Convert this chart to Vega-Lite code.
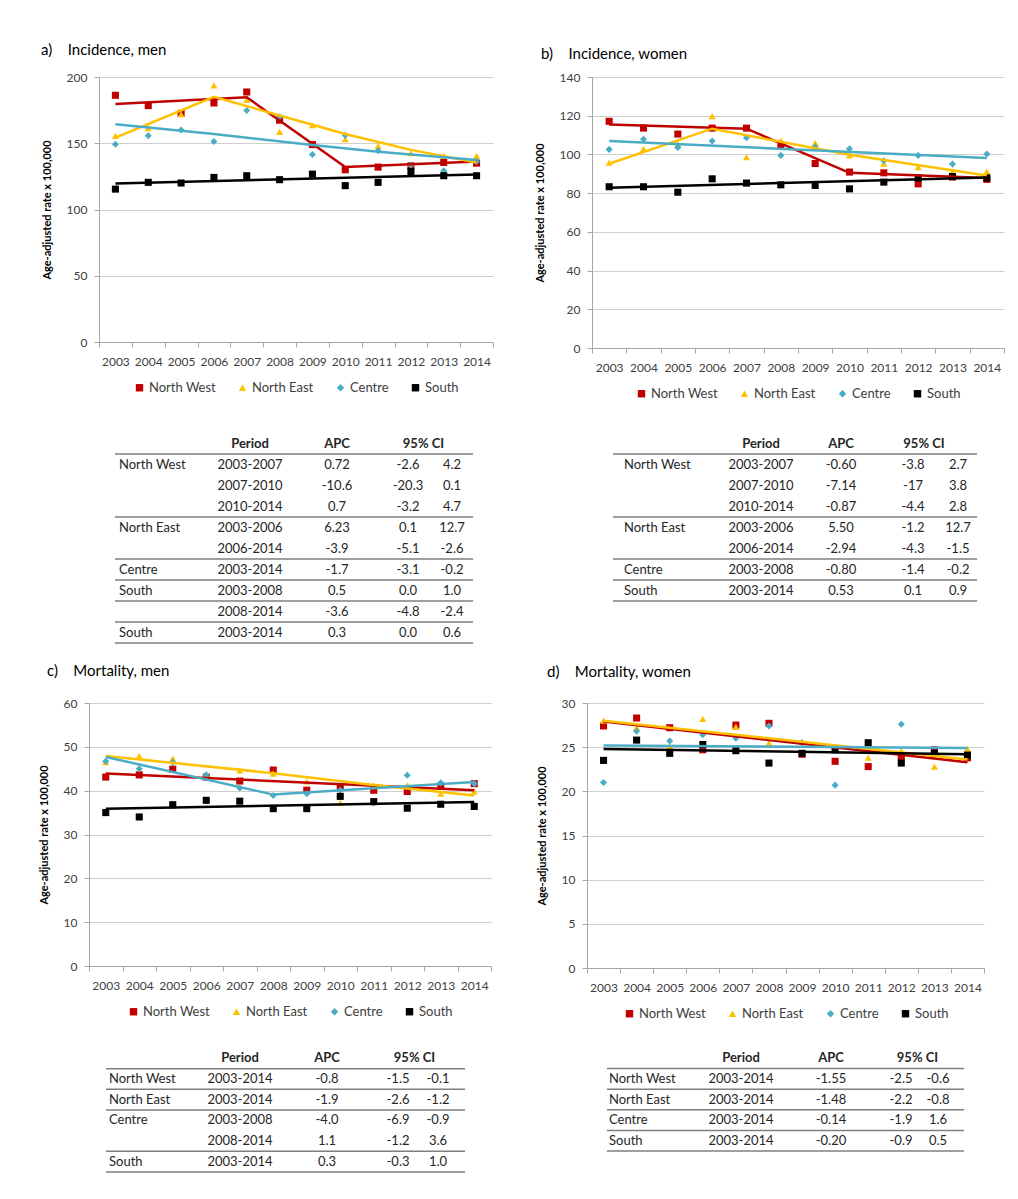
{
"$schema":"https://vega.github.io/schema/vega-lite/v6.json",
"background":"white",
"padding":{"left":37,"top":43,"right":5,"bottom":5},
"autosize":{"type":"pad"},
"config":{
 "font":"Lato",
 "view":{"stroke":null},
 "axis":{"labelFont":"Lato","labelFontSize":12,"labelColor":"#404040","domainColor":"#A6A6A6","tickColor":"#A6A6A6","gridColor":"#CFCFCF","tickSize":5,"titleFont":"Lato","titleFontSize":11,"titleFontWeight":"bold","titleColor":"#000000"},
 "axisY":{"labelPadding":7,"titlePadding":14,"minExtent":0,"grid":true},
 "axisX":{"labelPadding":9,"grid":false},
 "legend":{"orient":"bottom","direction":"horizontal","labelFont":"Lato","labelFontSize":13,"labelColor":"#404040","symbolSize":55,"symbolStrokeWidth":0,"columnPadding":20,"offset":14,"labelOffset":3,"layout":{"bottom":{"anchor":"middle"}}},
 "title":{"font":"Lato","fontSize":15,"fontWeight":"normal","color":"#000000","anchor":"start","frame":"bounds"},
 "text":{"font":"Lato","fontSize":13,"color":"#262626"}
},
"datasets":{
 "obs":[
  {"p":"a","yr":2003,"North West":186.2,"North East":155.6,"Centre":149.3,"South":115.4},
  {"p":"a","yr":2004,"North West":178.4,"North East":161.4,"Centre":155.6,"South":120.5},
  {"p":"a","yr":2005,"North West":172.6,"North East":171.9,"Centre":160.0,"South":120.0},
  {"p":"a","yr":2006,"North West":180.4,"North East":193.7,"Centre":151.3,"South":124.2},
  {"p":"a","yr":2007,"North West":188.7,"North East":182.7,"Centre":174.7,"South":125.5},
  {"p":"a","yr":2008,"North West":167.4,"North East":158.6,"Centre":170.0,"South":122.5},
  {"p":"a","yr":2009,"North West":149.0,"North East":163.6,"Centre":141.5,"South":126.7},
  {"p":"a","yr":2010,"North West":130.0,"North East":153.0,"Centre":156.0,"South":118.0},
  {"p":"a","yr":2011,"North West":132.0,"North East":148.0,"Centre":144.3,"South":120.5},
  {"p":"a","yr":2012,"North West":133.0,"North East":142.5,"Centre":133.5,"South":128.7},
  {"p":"a","yr":2013,"North West":135.5,"North East":140.5,"Centre":129.2,"South":125.5},
  {"p":"a","yr":2014,"North West":135.0,"North East":140.5,"Centre":136.3,"South":125.5},
  {"p":"b","yr":2003,"North West":117.1,"North East":95.7,"Centre":102.6,"South":83.3},
  {"p":"b","yr":2004,"North West":113.6,"North East":102.9,"Centre":107.8,"South":83.3},
  {"p":"b","yr":2005,"North West":110.5,"North East":105.5,"Centre":103.6,"South":80.5},
  {"p":"b","yr":2006,"North West":113.6,"North East":119.8,"Centre":106.9,"South":87.4},
  {"p":"b","yr":2007,"North West":113.6,"North East":98.6,"Centre":108.6,"South":85.2},
  {"p":"b","yr":2008,"North West":105.0,"North East":107.2,"Centre":99.5,"South":84.3},
  {"p":"b","yr":2009,"North West":95.3,"North East":105.9,"Centre":103.8,"South":84.0},
  {"p":"b","yr":2010,"North West":90.9,"North East":99.5,"Centre":102.9,"South":82.2},
  {"p":"b","yr":2011,"North West":90.5,"North East":95.2,"Centre":96.7,"South":85.7},
  {"p":"b","yr":2012,"North West":84.8,"North East":93.4,"Centre":99.5,"South":87.8},
  {"p":"b","yr":2013,"North West":88.3,"North East":90.9,"Centre":95.0,"South":88.6},
  {"p":"b","yr":2014,"North West":87.1,"North East":91.2,"Centre":100.2,"South":87.9},
  {"p":"c","yr":2003,"North West":43.1,"North East":46.5,"Centre":46.7,"South":35.0},
  {"p":"c","yr":2004,"North West":43.6,"North East":47.9,"Centre":45.0,"South":34.0},
  {"p":"c","yr":2005,"North West":44.9,"North East":47.3,"Centre":46.5,"South":36.8},
  {"p":"c","yr":2006,"North West":43.1,"North East":43.6,"Centre":43.6,"South":37.8},
  {"p":"c","yr":2007,"North West":42.2,"North East":44.6,"Centre":40.6,"South":37.6},
  {"p":"c","yr":2008,"North West":44.7,"North East":43.9,"Centre":38.9,"South":35.9},
  {"p":"c","yr":2009,"North West":40.1,"North East":42.1,"Centre":39.3,"South":35.9},
  {"p":"c","yr":2010,"North West":40.8,"North East":37.2,"Centre":40.1,"South":38.7},
  {"p":"c","yr":2011,"North West":40.1,"North East":41.2,"Centre":37.2,"South":37.5},
  {"p":"c","yr":2012,"North West":39.8,"North East":41.2,"Centre":43.5,"South":36.0},
  {"p":"c","yr":2013,"North West":41.0,"North East":39.3,"Centre":41.8,"South":36.9},
  {"p":"c","yr":2014,"North West":41.6,"North East":39.8,"Centre":41.6,"South":36.4},
  {"p":"d","yr":2003,"North West":27.4,"North East":28.0,"Centre":21.0,"South":23.5},
  {"p":"d","yr":2004,"North West":28.3,"North East":27.2,"Centre":26.8,"South":25.8},
  {"p":"d","yr":2005,"North West":27.2,"North East":25.1,"Centre":25.7,"South":24.3},
  {"p":"d","yr":2006,"North West":24.7,"North East":28.2,"Centre":26.4,"South":25.3},
  {"p":"d","yr":2007,"North West":27.5,"North East":27.3,"Centre":26.0,"South":24.6},
  {"p":"d","yr":2008,"North West":27.7,"North East":25.5,"Centre":27.4,"South":23.2},
  {"p":"d","yr":2009,"North West":24.2,"North East":25.6,"Centre":25.5,"South":24.3},
  {"p":"d","yr":2010,"North West":23.4,"North East":25.1,"Centre":20.7,"South":24.7},
  {"p":"d","yr":2011,"North West":22.8,"North East":23.8,"Centre":24.9,"South":25.5},
  {"p":"d","yr":2012,"North West":23.9,"North East":24.6,"Centre":27.6,"South":23.2},
  {"p":"d","yr":2013,"North West":24.7,"North East":22.8,"Centre":24.0,"South":24.3},
  {"p":"d","yr":2014,"North West":23.8,"North East":24.8,"Centre":24.0,"South":24.1}
 ],
 "fit":[
  {"p":"a","region":"North West","yr":2003,"v":179.7},{"p":"a","region":"North West","yr":2007,"v":184.7},{"p":"a","region":"North West","yr":2010,"v":132.0},{"p":"a","region":"North West","yr":2014,"v":136.3},
  {"p":"a","region":"North East","yr":2003,"v":154.3},{"p":"a","region":"North East","yr":2006,"v":185.0},{"p":"a","region":"North East","yr":2008,"v":171.0},{"p":"a","region":"North East","yr":2010,"v":157.0},{"p":"a","region":"North East","yr":2012,"v":145.0},{"p":"a","region":"North East","yr":2014,"v":135.5},
  {"p":"a","region":"Centre","yr":2003,"v":164.4},{"p":"a","region":"Centre","yr":2006,"v":157.0},{"p":"a","region":"Centre","yr":2009,"v":148.6},{"p":"a","region":"Centre","yr":2011,"v":143.5},{"p":"a","region":"Centre","yr":2014,"v":137.3},
  {"p":"a","region":"South","yr":2003,"v":119.7},{"p":"a","region":"South","yr":2014,"v":126.5},
  {"p":"b","region":"North West","yr":2003,"v":115.5},{"p":"b","region":"North West","yr":2007,"v":113.3},{"p":"b","region":"North West","yr":2010,"v":90.5},{"p":"b","region":"North West","yr":2014,"v":87.8},
  {"p":"b","region":"North East","yr":2003,"v":95.2},{"p":"b","region":"North East","yr":2006,"v":113.3},{"p":"b","region":"North East","yr":2010,"v":99.8},{"p":"b","region":"North East","yr":2014,"v":89.1},
  {"p":"b","region":"Centre","yr":2003,"v":106.9},{"p":"b","region":"Centre","yr":2014,"v":98.1},
  {"p":"b","region":"South","yr":2003,"v":82.8},{"p":"b","region":"South","yr":2014,"v":88.1},
  {"p":"c","region":"North West","yr":2003,"v":43.9},{"p":"c","region":"North West","yr":2014,"v":40.1},
  {"p":"c","region":"North East","yr":2003,"v":47.9},{"p":"c","region":"North East","yr":2008,"v":44.0},{"p":"c","region":"North East","yr":2011,"v":41.3},{"p":"c","region":"North East","yr":2014,"v":38.9},
  {"p":"c","region":"Centre","yr":2003,"v":47.7},{"p":"c","region":"Centre","yr":2008,"v":39.1},{"p":"c","region":"Centre","yr":2014,"v":42.0},
  {"p":"c","region":"South","yr":2003,"v":35.9},{"p":"c","region":"South","yr":2014,"v":37.4},
  {"p":"d","region":"North West","yr":2003,"v":27.9},{"p":"d","region":"North West","yr":2014,"v":23.3},
  {"p":"d","region":"North East","yr":2003,"v":28.0},{"p":"d","region":"North East","yr":2014,"v":23.6},
  {"p":"d","region":"Centre","yr":2003,"v":25.2},{"p":"d","region":"Centre","yr":2014,"v":24.9},
  {"p":"d","region":"South","yr":2003,"v":24.8},{"p":"d","region":"South","yr":2014,"v":24.2}
 ],
 "tab":[
  {"t":"a","r":1,"region":"North West","period":"2003-2007","apc":"0.72","lo":"-2.6","hi":"4.2"},
  {"t":"a","r":2,"region":"","period":"2007-2010","apc":"-10.6","lo":"-20.3","hi":"0.1"},
  {"t":"a","r":3,"region":"","period":"2010-2014","apc":"0.7","lo":"-3.2","hi":"4.7"},
  {"t":"a","r":4,"region":"North East","period":"2003-2006","apc":"6.23","lo":"0.1","hi":"12.7"},
  {"t":"a","r":5,"region":"","period":"2006-2014","apc":"-3.9","lo":"-5.1","hi":"-2.6"},
  {"t":"a","r":6,"region":"Centre","period":"2003-2014","apc":"-1.7","lo":"-3.1","hi":"-0.2"},
  {"t":"a","r":7,"region":"South","period":"2003-2008","apc":"0.5","lo":"0.0","hi":"1.0"},
  {"t":"a","r":8,"region":"","period":"2008-2014","apc":"-3.6","lo":"-4.8","hi":"-2.4"},
  {"t":"a","r":9,"region":"South","period":"2003-2014","apc":"0.3","lo":"0.0","hi":"0.6"},
  {"t":"b","r":1,"region":"North West","period":"2003-2007","apc":"-0.60","lo":"-3.8","hi":"2.7"},
  {"t":"b","r":2,"region":"","period":"2007-2010","apc":"-7.14","lo":"-17","hi":"3.8"},
  {"t":"b","r":3,"region":"","period":"2010-2014","apc":"-0.87","lo":"-4.4","hi":"2.8"},
  {"t":"b","r":4,"region":"North East","period":"2003-2006","apc":"5.50","lo":"-1.2","hi":"12.7"},
  {"t":"b","r":5,"region":"","period":"2006-2014","apc":"-2.94","lo":"-4.3","hi":"-1.5"},
  {"t":"b","r":6,"region":"Centre","period":"2003-2008","apc":"-0.80","lo":"-1.4","hi":"-0.2"},
  {"t":"b","r":7,"region":"South","period":"2003-2014","apc":"0.53","lo":"0.1","hi":"0.9"},
  {"t":"c","r":1,"region":"North West","period":"2003-2014","apc":"-0.8","lo":"-1.5","hi":"-0.1"},
  {"t":"c","r":2,"region":"North East","period":"2003-2014","apc":"-1.9","lo":"-2.6","hi":"-1.2"},
  {"t":"c","r":3,"region":"Centre","period":"2003-2008","apc":"-4.0","lo":"-6.9","hi":"-0.9"},
  {"t":"c","r":4,"region":"","period":"2008-2014","apc":"1.1","lo":"-1.2","hi":"3.6"},
  {"t":"c","r":5,"region":"South","period":"2003-2014","apc":"0.3","lo":"-0.3","hi":"1.0"},
  {"t":"d","r":1,"region":"North West","period":"2003-2014","apc":"-1.55","lo":"-2.5","hi":"-0.6"},
  {"t":"d","r":2,"region":"North East","period":"2003-2014","apc":"-1.48","lo":"-2.2","hi":"-0.8"},
  {"t":"d","r":3,"region":"Centre","period":"2003-2014","apc":"-0.14","lo":"-1.9","hi":"1.6"},
  {"t":"d","r":4,"region":"South","period":"2003-2014","apc":"-0.20","lo":"-0.9","hi":"0.5"}
 ],
 "seps":[
  {"t":"a","b":0.5},{"t":"a","b":3.5},{"t":"a","b":5.5},{"t":"a","b":6.5},{"t":"a","b":7.5},{"t":"a","b":8.5},{"t":"a","b":9.5},
  {"t":"b","b":0.5},{"t":"b","b":3.5},{"t":"b","b":5.5},{"t":"b","b":6.5},{"t":"b","b":7.5},
  {"t":"c","b":0.5},{"t":"c","b":1.5},{"t":"c","b":2.5},{"t":"c","b":4.5},{"t":"c","b":5.5},
  {"t":"d","b":0.5},{"t":"d","b":1.5},{"t":"d","b":2.5},{"t":"d","b":3.5},{"t":"d","b":4.5}
 ]
},
"columns":1,
"spacing":20,
"resolve":{"scale":{"color":"independent","shape":"independent"},"legend":{"color":"independent","shape":"independent"}},
"concat":[
 {"hconcat":[
  {"width":4,"height":1,"data":{"values":[]},"mark":"point","encoding":{}},
  {"hconcat":[
  {"vconcat":[
   {"width":394,"height":265,
    "title":{"text":"a)\u00a0\u00a0\u00a0\u00a0Incidence, men","offset":13},
    "encoding":{
     "x":{"field":"yr","type":"quantitative","scale":{"domain":[2002.5,2014.5],"nice":false,"zero":false},"axis":{"values":[2002.5,2003,2003.5,2004,2004.5,2005,2005.5,2006,2006.5,2007,2007.5,2008,2008.5,2009,2009.5,2010,2010.5,2011,2011.5,2012,2012.5,2013,2013.5,2014,2014.5],"labelExpr":"datum.value % 1 === 0 ? format(datum.value, 'd') : ''","tickOpacity":{"condition":{"test":"datum.value % 1 !== 0","value":1},"value":0},"title":null,"labelOverlap":false,"labelFlush":false}},
     "y":{"field":"v","type":"quantitative","scale":{"domain":[0,200],"nice":false},"axis":{"values":[0,50,100,150,200],"title":"Age-adjusted rate x 100,000"}},
     "color":{"field":"region","type":"nominal","scale":{"domain":["North West","North East","Centre","South"],"range":["#C00000","#FFC000","#4BACC6","#000000"]},"legend":{"title":null}}
    },
    "layer":[
     {"data":{"name":"obs"},"transform":[{"filter":"datum.p === 'a'"},{"fold":["North West","North East","Centre","South"],"as":["region","v"]}],
      "mark":{"type":"point","filled":true,"size":50,"opacity":1},
      "encoding":{"shape":{"field":"region","type":"nominal","scale":{"domain":["North West","North East","Centre","South"],"range":["square","triangle-up","diamond","square"]},"legend":{"title":null}}}},
     {"data":{"name":"fit"},"transform":[{"filter":"datum.p === 'a'"}],
      "mark":{"type":"line","strokeWidth":2.5}}
    ]},
   {"hconcat":[
     {"width":16,"height":10,"data":{"values":[]},"mark":"point","encoding":{}},
     {"width":85,"height":210,"layer":[
       {"data":{"name":"seps"},"transform":[{"filter":"datum.t === 'a'"}],"mark":{"type":"rule","color":"#7F7F7F","strokeWidth":1.5},"encoding":{"y":{"field":"b","type":"quantitative","scale":{"domain":[-0.5,9.5],"reverse":true,"nice":false,"zero":false},"axis":null}}},
       {"data":{"name":"tab"},"transform":[{"filter":"datum.t === 'a'"}],"mark":{"type":"text","align":"left","dx":-38.5},"encoding":{"y":{"field":"r","type":"quantitative","scale":{"domain":[-0.5,9.5],"reverse":true,"nice":false,"zero":false},"axis":null},"text":{"field":"region"}}}
     ]},
     {"width":100,"height":210,"layer":[
       {"data":{"name":"seps"},"transform":[{"filter":"datum.t === 'a'"}],"mark":{"type":"rule","color":"#7F7F7F","strokeWidth":1.5},"encoding":{"y":{"field":"b","type":"quantitative","scale":{"domain":[-0.5,9.5],"reverse":true,"nice":false,"zero":false},"axis":null}}},
       {"data":{"values":[{"h":"Period"}]},"mark":{"type":"text","fontWeight":"bold"},"encoding":{"y":{"datum":0,"type":"quantitative","scale":{"domain":[-0.5,9.5],"reverse":true,"nice":false,"zero":false},"axis":null},"text":{"field":"h"}}},
       {"data":{"name":"tab"},"transform":[{"filter":"datum.t === 'a'"}],"mark":{"type":"text"},"encoding":{"y":{"field":"r","type":"quantitative","scale":{"domain":[-0.5,9.5],"reverse":true,"nice":false,"zero":false},"axis":null},"text":{"field":"period"}}}
     ]},
     {"width":74,"height":210,"layer":[
       {"data":{"name":"seps"},"transform":[{"filter":"datum.t === 'a'"}],"mark":{"type":"rule","color":"#7F7F7F","strokeWidth":1.5},"encoding":{"y":{"field":"b","type":"quantitative","scale":{"domain":[-0.5,9.5],"reverse":true,"nice":false,"zero":false},"axis":null}}},
       {"data":{"values":[{"h":"APC"}]},"mark":{"type":"text","fontWeight":"bold"},"encoding":{"y":{"datum":0,"type":"quantitative","scale":{"domain":[-0.5,9.5],"reverse":true,"nice":false,"zero":false},"axis":null},"text":{"field":"h"}}},
       {"data":{"name":"tab"},"transform":[{"filter":"datum.t === 'a'"}],"mark":{"type":"text"},"encoding":{"y":{"field":"r","type":"quantitative","scale":{"domain":[-0.5,9.5],"reverse":true,"nice":false,"zero":false},"axis":null},"text":{"field":"apc"}}}
     ]},
     {"width":99,"height":210,"layer":[
       {"data":{"name":"seps"},"transform":[{"filter":"datum.t === 'a'"}],"mark":{"type":"rule","color":"#7F7F7F","strokeWidth":1.5},"encoding":{"y":{"field":"b","type":"quantitative","scale":{"domain":[-0.5,9.5],"reverse":true,"nice":false,"zero":false},"axis":null}}},
       {"data":{"values":[{"h":"95% CI"}]},"mark":{"type":"text","fontWeight":"bold"},"encoding":{"y":{"datum":0,"type":"quantitative","scale":{"domain":[-0.5,9.5],"reverse":true,"nice":false,"zero":false},"axis":null},"text":{"field":"h"}}},
       {"data":{"name":"tab"},"transform":[{"filter":"datum.t === 'a'"},{"fold":["lo","hi"],"as":["k","val"]}],"mark":{"type":"text"},"encoding":{"x":{"field":"k","type":"nominal","scale":{"domain":["lo","hi"],"range":[34,78],"padding":0},"axis":null},"y":{"field":"r","type":"quantitative","scale":{"domain":[-0.5,9.5],"reverse":true,"nice":false,"zero":false},"axis":null},"text":{"field":"val"}}}
     ]}
    ],"spacing":0,"bounds":"flush"}
  ],"spacing":38,"resolve":{"scale":{"color":"independent","shape":"independent"},"legend":{"color":"independent","shape":"independent"}}},
  {"vconcat":[
   {"width":412,"height":271,
    "title":{"text":"b)\u00a0\u00a0\u00a0\u00a0Incidence, women","offset":9,"dx":7},
    "encoding":{
     "x":{"field":"yr","type":"quantitative","scale":{"domain":[2002.5,2014.5],"nice":false,"zero":false},"axis":{"values":[2002.5,2003,2003.5,2004,2004.5,2005,2005.5,2006,2006.5,2007,2007.5,2008,2008.5,2009,2009.5,2010,2010.5,2011,2011.5,2012,2012.5,2013,2013.5,2014,2014.5],"labelExpr":"datum.value % 1 === 0 ? format(datum.value, 'd') : ''","tickOpacity":{"condition":{"test":"datum.value % 1 !== 0","value":1},"value":0},"title":null,"labelOverlap":false,"labelFlush":false}},
     "y":{"field":"v","type":"quantitative","scale":{"domain":[0,140],"nice":false},"axis":{"values":[0,20,40,60,80,100,120,140],"title":"Age-adjusted rate x 100,000"}},
     "color":{"field":"region","type":"nominal","scale":{"domain":["North West","North East","Centre","South"],"range":["#C00000","#FFC000","#4BACC6","#000000"]},"legend":{"title":null}}
    },
    "layer":[
     {"data":{"name":"obs"},"transform":[{"filter":"datum.p === 'b'"},{"fold":["North West","North East","Centre","South"],"as":["region","v"]}],
      "mark":{"type":"point","filled":true,"size":50,"opacity":1},
      "encoding":{"shape":{"field":"region","type":"nominal","scale":{"domain":["North West","North East","Centre","South"],"range":["square","triangle-up","diamond","square"]},"legend":{"title":null}}}},
     {"data":{"name":"fit"},"transform":[{"filter":"datum.p === 'b'"}],
      "mark":{"type":"line","strokeWidth":2.5}}
    ]},
   {"hconcat":[
     {"width":21,"height":10,"data":{"values":[]},"mark":"point","encoding":{}},
     {"width":98,"height":168,"layer":[
       {"data":{"name":"seps"},"transform":[{"filter":"datum.t === 'b'"}],"mark":{"type":"rule","color":"#7F7F7F","strokeWidth":1.5},"encoding":{"y":{"field":"b","type":"quantitative","scale":{"domain":[-0.5,7.5],"reverse":true,"nice":false,"zero":false},"axis":null}}},
       {"data":{"name":"tab"},"transform":[{"filter":"datum.t === 'b'"}],"mark":{"type":"text","align":"left","dx":-38},"encoding":{"y":{"field":"r","type":"quantitative","scale":{"domain":[-0.5,7.5],"reverse":true,"nice":false,"zero":false},"axis":null},"text":{"field":"region"}}}
     ]},
     {"width":100,"height":168,"layer":[
       {"data":{"name":"seps"},"transform":[{"filter":"datum.t === 'b'"}],"mark":{"type":"rule","color":"#7F7F7F","strokeWidth":1.5},"encoding":{"y":{"field":"b","type":"quantitative","scale":{"domain":[-0.5,7.5],"reverse":true,"nice":false,"zero":false},"axis":null}}},
       {"data":{"values":[{"h":"Period"}]},"mark":{"type":"text","fontWeight":"bold"},"encoding":{"y":{"datum":0,"type":"quantitative","scale":{"domain":[-0.5,7.5],"reverse":true,"nice":false,"zero":false},"axis":null},"text":{"field":"h"}}},
       {"data":{"name":"tab"},"transform":[{"filter":"datum.t === 'b'"}],"mark":{"type":"text"},"encoding":{"y":{"field":"r","type":"quantitative","scale":{"domain":[-0.5,7.5],"reverse":true,"nice":false,"zero":false},"axis":null},"text":{"field":"period"}}}
     ]},
     {"width":60,"height":168,"layer":[
       {"data":{"name":"seps"},"transform":[{"filter":"datum.t === 'b'"}],"mark":{"type":"rule","color":"#7F7F7F","strokeWidth":1.5},"encoding":{"y":{"field":"b","type":"quantitative","scale":{"domain":[-0.5,7.5],"reverse":true,"nice":false,"zero":false},"axis":null}}},
       {"data":{"values":[{"h":"APC"}]},"mark":{"type":"text","fontWeight":"bold"},"encoding":{"y":{"datum":0,"type":"quantitative","scale":{"domain":[-0.5,7.5],"reverse":true,"nice":false,"zero":false},"axis":null},"text":{"field":"h"}}},
       {"data":{"name":"tab"},"transform":[{"filter":"datum.t === 'b'"}],"mark":{"type":"text"},"encoding":{"y":{"field":"r","type":"quantitative","scale":{"domain":[-0.5,7.5],"reverse":true,"nice":false,"zero":false},"axis":null},"text":{"field":"apc"}}}
     ]},
     {"width":106,"height":168,"layer":[
       {"data":{"name":"seps"},"transform":[{"filter":"datum.t === 'b'"}],"mark":{"type":"rule","color":"#7F7F7F","strokeWidth":1.5},"encoding":{"y":{"field":"b","type":"quantitative","scale":{"domain":[-0.5,7.5],"reverse":true,"nice":false,"zero":false},"axis":null}}},
       {"data":{"values":[{"h":"95% CI"}]},"mark":{"type":"text","fontWeight":"bold"},"encoding":{"y":{"datum":0,"type":"quantitative","scale":{"domain":[-0.5,7.5],"reverse":true,"nice":false,"zero":false},"axis":null},"text":{"field":"h"}}},
       {"data":{"name":"tab"},"transform":[{"filter":"datum.t === 'b'"},{"fold":["lo","hi"],"as":["k","val"]}],"mark":{"type":"text"},"encoding":{"x":{"field":"k","type":"nominal","scale":{"domain":["lo","hi"],"range":[42,87],"padding":0},"axis":null},"y":{"field":"r","type":"quantitative","scale":{"domain":[-0.5,7.5],"reverse":true,"nice":false,"zero":false},"axis":null},"text":{"field":"val"}}}
     ]}
    ],"spacing":0,"bounds":"flush"}
  ],"spacing":32,"resolve":{"scale":{"color":"independent","shape":"independent"},"legend":{"color":"independent","shape":"independent"}}}
  ],"spacing":40,"resolve":{"scale":{"color":"independent","shape":"independent"},"legend":{"color":"independent","shape":"independent"}}}
 ],"spacing":0,"resolve":{"scale":{"color":"independent","shape":"independent"},"legend":{"color":"independent","shape":"independent"}}},
 {"hconcat":[
  {"width":1,"height":1,"data":{"values":[]},"mark":"point","encoding":{}},
  {"hconcat":[
  {"vconcat":[
   {"width":402,"height":263,
    "title":{"text":"c)\u00a0\u00a0\u00a0\u00a0Mortality, men","offset":18,"dx":9},
    "encoding":{
     "x":{"field":"yr","type":"quantitative","scale":{"domain":[2002.5,2014.5],"nice":false,"zero":false},"axis":{"values":[2002.5,2003,2003.5,2004,2004.5,2005,2005.5,2006,2006.5,2007,2007.5,2008,2008.5,2009,2009.5,2010,2010.5,2011,2011.5,2012,2012.5,2013,2013.5,2014,2014.5],"labelExpr":"datum.value % 1 === 0 ? format(datum.value, 'd') : ''","tickOpacity":{"condition":{"test":"datum.value % 1 !== 0","value":1},"value":0},"title":null,"labelOverlap":false,"labelFlush":false}},
     "y":{"field":"v","type":"quantitative","scale":{"domain":[0,60],"nice":false},"axis":{"values":[0,10,20,30,40,50,60],"title":"Age-adjusted rate x 100,000"}},
     "color":{"field":"region","type":"nominal","scale":{"domain":["North West","North East","Centre","South"],"range":["#C00000","#FFC000","#4BACC6","#000000"]},"legend":{"title":null}}
    },
    "layer":[
     {"data":{"name":"obs"},"transform":[{"filter":"datum.p === 'c'"},{"fold":["North West","North East","Centre","South"],"as":["region","v"]}],
      "mark":{"type":"point","filled":true,"size":50,"opacity":1},
      "encoding":{"shape":{"field":"region","type":"nominal","scale":{"domain":["North West","North East","Centre","South"],"range":["square","triangle-up","diamond","square"]},"legend":{"title":null}}}},
     {"data":{"name":"fit"},"transform":[{"filter":"datum.p === 'c'"}],
      "mark":{"type":"line","strokeWidth":2.5}}
    ]},
   {"hconcat":[
     {"width":17,"height":10,"data":{"values":[]},"mark":"point","encoding":{}},
     {"width":84,"height":124,"layer":[
       {"data":{"name":"seps"},"transform":[{"filter":"datum.t === 'c'"}],"mark":{"type":"rule","color":"#7F7F7F","strokeWidth":1.5},"encoding":{"y":{"field":"b","type":"quantitative","scale":{"domain":[-0.5,5.5],"reverse":true,"nice":false,"zero":false},"axis":null}}},
       {"data":{"name":"tab"},"transform":[{"filter":"datum.t === 'c'"}],"mark":{"type":"text","align":"left","dx":-39},"encoding":{"y":{"field":"r","type":"quantitative","scale":{"domain":[-0.5,5.5],"reverse":true,"nice":false,"zero":false},"axis":null},"text":{"field":"region"}}}
     ]},
     {"width":100,"height":124,"layer":[
       {"data":{"name":"seps"},"transform":[{"filter":"datum.t === 'c'"}],"mark":{"type":"rule","color":"#7F7F7F","strokeWidth":1.5},"encoding":{"y":{"field":"b","type":"quantitative","scale":{"domain":[-0.5,5.5],"reverse":true,"nice":false,"zero":false},"axis":null}}},
       {"data":{"values":[{"h":"Period"}]},"mark":{"type":"text","fontWeight":"bold"},"encoding":{"y":{"datum":0,"type":"quantitative","scale":{"domain":[-0.5,5.5],"reverse":true,"nice":false,"zero":false},"axis":null},"text":{"field":"h"}}},
       {"data":{"name":"tab"},"transform":[{"filter":"datum.t === 'c'"}],"mark":{"type":"text"},"encoding":{"y":{"field":"r","type":"quantitative","scale":{"domain":[-0.5,5.5],"reverse":true,"nice":false,"zero":false},"axis":null},"text":{"field":"period"}}}
     ]},
     {"width":74,"height":124,"layer":[
       {"data":{"name":"seps"},"transform":[{"filter":"datum.t === 'c'"}],"mark":{"type":"rule","color":"#7F7F7F","strokeWidth":1.5},"encoding":{"y":{"field":"b","type":"quantitative","scale":{"domain":[-0.5,5.5],"reverse":true,"nice":false,"zero":false},"axis":null}}},
       {"data":{"values":[{"h":"APC"}]},"mark":{"type":"text","fontWeight":"bold"},"encoding":{"y":{"datum":0,"type":"quantitative","scale":{"domain":[-0.5,5.5],"reverse":true,"nice":false,"zero":false},"axis":null},"text":{"field":"h"}}},
       {"data":{"name":"tab"},"transform":[{"filter":"datum.t === 'c'"}],"mark":{"type":"text"},"encoding":{"y":{"field":"r","type":"quantitative","scale":{"domain":[-0.5,5.5],"reverse":true,"nice":false,"zero":false},"axis":null},"text":{"field":"apc"}}}
     ]},
     {"width":101,"height":124,"layer":[
       {"data":{"name":"seps"},"transform":[{"filter":"datum.t === 'c'"}],"mark":{"type":"rule","color":"#7F7F7F","strokeWidth":1.5},"encoding":{"y":{"field":"b","type":"quantitative","scale":{"domain":[-0.5,5.5],"reverse":true,"nice":false,"zero":false},"axis":null}}},
       {"data":{"values":[{"h":"95% CI"}]},"mark":{"type":"text","fontWeight":"bold"},"encoding":{"y":{"datum":0,"type":"quantitative","scale":{"domain":[-0.5,5.5],"reverse":true,"nice":false,"zero":false},"axis":null},"text":{"field":"h"}}},
       {"data":{"name":"tab"},"transform":[{"filter":"datum.t === 'c'"},{"fold":["lo","hi"],"as":["k","val"]}],"mark":{"type":"text"},"encoding":{"x":{"field":"k","type":"nominal","scale":{"domain":["lo","hi"],"range":[34,74],"padding":0},"axis":null},"y":{"field":"r","type":"quantitative","scale":{"domain":[-0.5,5.5],"reverse":true,"nice":false,"zero":false},"axis":null},"text":{"field":"val"}}}
     ]}
    ],"spacing":0,"bounds":"flush"}
  ],"spacing":29,"resolve":{"scale":{"color":"independent","shape":"independent"},"legend":{"color":"independent","shape":"independent"}}},
  {"vconcat":[
   {"width":397,"height":265,
    "title":{"text":"d)\u00a0\u00a0\u00a0\u00a0Mortality, women","offset":17,"dx":11},
    "encoding":{
     "x":{"field":"yr","type":"quantitative","scale":{"domain":[2002.5,2014.5],"nice":false,"zero":false},"axis":{"values":[2002.5,2003,2003.5,2004,2004.5,2005,2005.5,2006,2006.5,2007,2007.5,2008,2008.5,2009,2009.5,2010,2010.5,2011,2011.5,2012,2012.5,2013,2013.5,2014,2014.5],"labelExpr":"datum.value % 1 === 0 ? format(datum.value, 'd') : ''","tickOpacity":{"condition":{"test":"datum.value % 1 !== 0","value":1},"value":0},"title":null,"labelOverlap":false,"labelFlush":false}},
     "y":{"field":"v","type":"quantitative","scale":{"domain":[0,30],"nice":false},"axis":{"values":[0,5,10,15,20,25,30],"title":"Age-adjusted rate x 100,000"}},
     "color":{"field":"region","type":"nominal","scale":{"domain":["North West","North East","Centre","South"],"range":["#C00000","#FFC000","#4BACC6","#000000"]},"legend":{"title":null}}
    },
    "layer":[
     {"data":{"name":"obs"},"transform":[{"filter":"datum.p === 'd'"},{"fold":["North West","North East","Centre","South"],"as":["region","v"]}],
      "mark":{"type":"point","filled":true,"size":50,"opacity":1},
      "encoding":{"shape":{"field":"region","type":"nominal","scale":{"domain":["North West","North East","Centre","South"],"range":["square","triangle-up","diamond","square"]},"legend":{"title":null}}}},
     {"data":{"name":"fit"},"transform":[{"filter":"datum.p === 'd'"}],
      "mark":{"type":"line","strokeWidth":2.5}}
    ]},
   {"hconcat":[
     {"width":20,"height":10,"data":{"values":[]},"mark":"point","encoding":{}},
     {"width":84,"height":103,"layer":[
       {"data":{"name":"seps"},"transform":[{"filter":"datum.t === 'd'"}],"mark":{"type":"rule","color":"#7F7F7F","strokeWidth":1.5},"encoding":{"y":{"field":"b","type":"quantitative","scale":{"domain":[-0.5,4.5],"reverse":true,"nice":false,"zero":false},"axis":null}}},
       {"data":{"name":"tab"},"transform":[{"filter":"datum.t === 'd'"}],"mark":{"type":"text","align":"left","dx":-40},"encoding":{"y":{"field":"r","type":"quantitative","scale":{"domain":[-0.5,4.5],"reverse":true,"nice":false,"zero":false},"axis":null},"text":{"field":"region"}}}
     ]},
     {"width":100,"height":103,"layer":[
       {"data":{"name":"seps"},"transform":[{"filter":"datum.t === 'd'"}],"mark":{"type":"rule","color":"#7F7F7F","strokeWidth":1.5},"encoding":{"y":{"field":"b","type":"quantitative","scale":{"domain":[-0.5,4.5],"reverse":true,"nice":false,"zero":false},"axis":null}}},
       {"data":{"values":[{"h":"Period"}]},"mark":{"type":"text","fontWeight":"bold"},"encoding":{"y":{"datum":0,"type":"quantitative","scale":{"domain":[-0.5,4.5],"reverse":true,"nice":false,"zero":false},"axis":null},"text":{"field":"h"}}},
       {"data":{"name":"tab"},"transform":[{"filter":"datum.t === 'd'"}],"mark":{"type":"text"},"encoding":{"y":{"field":"r","type":"quantitative","scale":{"domain":[-0.5,4.5],"reverse":true,"nice":false,"zero":false},"axis":null},"text":{"field":"period"}}}
     ]},
     {"width":80,"height":103,"layer":[
       {"data":{"name":"seps"},"transform":[{"filter":"datum.t === 'd'"}],"mark":{"type":"rule","color":"#7F7F7F","strokeWidth":1.5},"encoding":{"y":{"field":"b","type":"quantitative","scale":{"domain":[-0.5,4.5],"reverse":true,"nice":false,"zero":false},"axis":null}}},
       {"data":{"values":[{"h":"APC"}]},"mark":{"type":"text","fontWeight":"bold"},"encoding":{"y":{"datum":0,"type":"quantitative","scale":{"domain":[-0.5,4.5],"reverse":true,"nice":false,"zero":false},"axis":null},"text":{"field":"h"}}},
       {"data":{"name":"tab"},"transform":[{"filter":"datum.t === 'd'"}],"mark":{"type":"text"},"encoding":{"y":{"field":"r","type":"quantitative","scale":{"domain":[-0.5,4.5],"reverse":true,"nice":false,"zero":false},"axis":null},"text":{"field":"apc"}}}
     ]},
     {"width":93,"height":103,"layer":[
       {"data":{"name":"seps"},"transform":[{"filter":"datum.t === 'd'"}],"mark":{"type":"rule","color":"#7F7F7F","strokeWidth":1.5},"encoding":{"y":{"field":"b","type":"quantitative","scale":{"domain":[-0.5,4.5],"reverse":true,"nice":false,"zero":false},"axis":null}}},
       {"data":{"values":[{"h":"95% CI"}]},"mark":{"type":"text","fontWeight":"bold"},"encoding":{"y":{"datum":0,"type":"quantitative","scale":{"domain":[-0.5,4.5],"reverse":true,"nice":false,"zero":false},"axis":null},"text":{"field":"h"}}},
       {"data":{"name":"tab"},"transform":[{"filter":"datum.t === 'd'"},{"fold":["lo","hi"],"as":["k","val"]}],"mark":{"type":"text"},"encoding":{"x":{"field":"k","type":"nominal","scale":{"domain":["lo","hi"],"range":[30,67],"padding":0},"axis":null},"y":{"field":"r","type":"quantitative","scale":{"domain":[-0.5,4.5],"reverse":true,"nice":false,"zero":false},"axis":null},"text":{"field":"val"}}}
     ]}
    ],"spacing":0,"bounds":"flush"}
  ],"spacing":27,"resolve":{"scale":{"color":"independent","shape":"independent"},"legend":{"color":"independent","shape":"independent"}}}
  ],"spacing":44,"resolve":{"scale":{"color":"independent","shape":"independent"},"legend":{"color":"independent","shape":"independent"}}}
 ],"spacing":0,"resolve":{"scale":{"color":"independent","shape":"independent"},"legend":{"color":"independent","shape":"independent"}}}
]
}
